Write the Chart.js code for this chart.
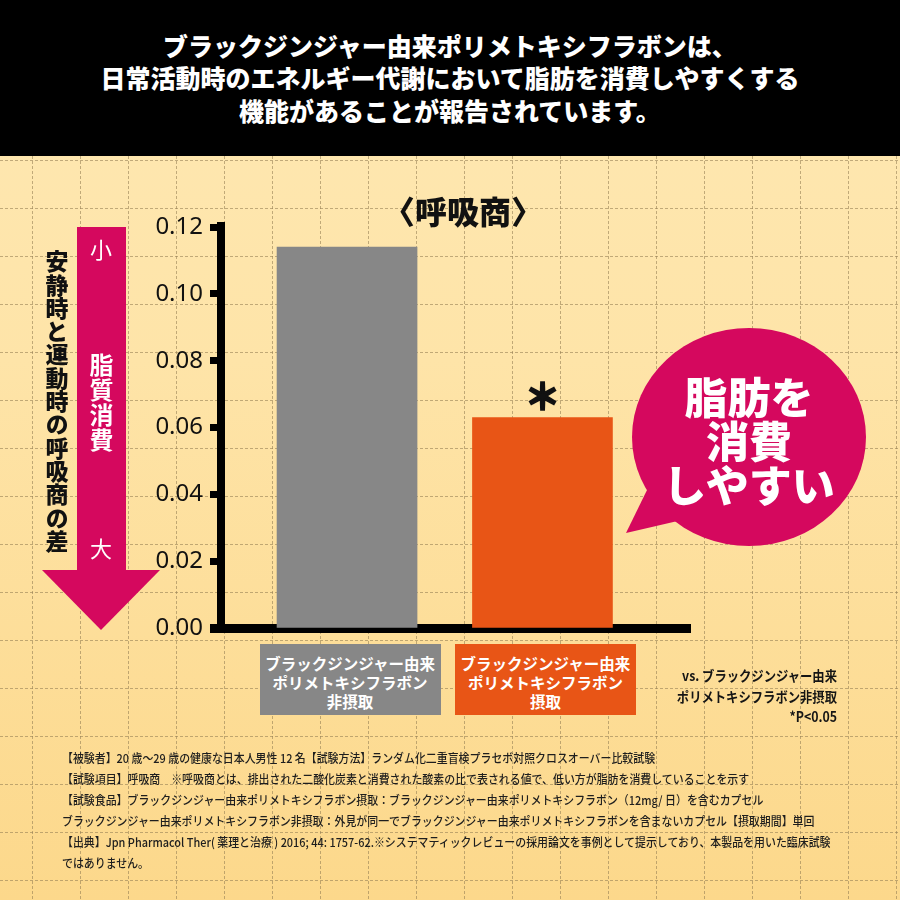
<!DOCTYPE html>
<html lang="ja">
<head>
<meta charset="utf-8">
<script src="https://cdn.jsdelivr.net/npm/chart.js@4/dist/chart.umd.min.js"></script>
<style>
html,body{margin:0;padding:0;}
body{width:900px;height:900px;position:relative;overflow:hidden;
  background:linear-gradient(#FEE8B3 0%,#FEE4A8 40%,#FCD88B 100%);
  font-family:"Noto Sans CJK JP","Noto Sans",sans-serif;}
#c{position:absolute;left:0;top:0;}
.abs{position:absolute;white-space:pre;}
#header{position:absolute;left:0;top:0;width:900px;height:156px;background:#000;color:#fff;
  text-align:center;font-weight:900;font-size:25px;line-height:32.5px;padding-top:28.5px;box-sizing:border-box;white-space:pre;}
#title{left:313px;top:192px;width:300px;text-align:center;font-size:32px;font-weight:900;line-height:36px;color:#111;}
#vlabel{left:45px;top:250px;writing-mode:vertical-rl;text-orientation:upright;font-size:23px;line-height:24px;font-weight:900;letter-spacing:0.3px;color:#111;}
.arrowtxt{left:81px;width:40px;text-align:center;color:#fff;font-size:22px;line-height:24px;}
#fat{left:89px;top:353px;writing-mode:vertical-rl;text-orientation:upright;font-size:24px;line-height:24px;font-weight:700;letter-spacing:1px;color:#fff;}
#bubble{left:649px;top:373px;width:200px;text-align:center;color:#fff;font-size:43px;line-height:44px;font-weight:900;}
#note{right:63px;top:665px;text-align:right;font-size:14px;line-height:20.5px;font-weight:700;color:#151515;transform:scaleX(0.88);transform-origin:right top;}
#foot{left:62px;top:746.5px;font-size:12px;line-height:21px;font-weight:500;color:#1e1e1e;transform:scaleX(0.91);transform-origin:left top;}
.catbox{position:absolute;top:644px;width:181px;height:71px;color:#fff;text-align:center;font-weight:700;font-size:15.5px;line-height:19px;padding-top:9.5px;box-sizing:border-box;white-space:pre;}
#star{position:absolute;width:60px;text-align:center;font-size:36px;line-height:40px;font-weight:900;color:#111;-webkit-text-stroke:1.6px #111;}
</style>
</head>
<body>
<canvas id="c" width="900" height="900"></canvas>
<div id="header">ブラックジンジャー由来ポリメトキシフラボンは、
日常活動時のエネルギー代謝において脂肪を消費しやすくする
機能があることが報告されています。</div>
<div id="title" class="abs">〈呼吸商〉</div>
<div id="vlabel" class="abs">安静時と運動時の呼吸商の差</div>
<div class="abs arrowtxt" style="top:236px;">小</div>
<div id="fat" class="abs">脂質消費</div>
<div class="abs arrowtxt" style="top:535px;">大</div>
<div id="bubble" class="abs">脂肪を
消費
しやすい</div>
<div id="note" class="abs">vs. ブラックジンジャー由来
ポリメトキシフラボン非摂取
*P&lt;0.05</div>
<div id="foot" class="abs">【被験者】20 歳～29 歳の健康な日本人男性 12 名【試験方法】ランダム化二重盲検プラセボ対照クロスオーバー比較試験
【試験項目】呼吸商　※呼吸商とは、排出された二酸化炭素と消費された酸素の比で表される値で、低い方が脂肪を消費していることを示す
【試験食品】ブラックジンジャー由来ポリメトキシフラボン摂取：ブラックジンジャー由来ポリメトキシフラボン（12mg/ 日）を含むカプセル
ブラックジンジャー由来ポリメトキシフラボン非摂取：外見が同一でブラックジンジャー由来ポリメトキシフラボンを含まないカプセル【摂取期間】単回
【出典】Jpn Pharmacol Ther( 薬理と治療 ) 2016; 44: 1757-62.※システマティックレビューの採用論文を事例として提示しており、本製品を用いた臨床試験
ではありません。</div>
<script>
// ---- data ----
const categories = [
  "ブラックジンジャー由来\nポリメトキシフラボン\n非摂取",
  "ブラックジンジャー由来\nポリメトキシフラボン\n摂取"
];
const rqDifference = [0.114, 0.063];
const barColors = ["#878787", "#E85516"];
const significance = ["", "＊"];
const yTicks = [0, 0.02, 0.04, 0.06, 0.08, 0.10, 0.12];

const PINK = "#D5085E";

const backgroundPlugin = {
  id: "bg",
  beforeDraw(chart) {
    const ctx = chart.ctx;
    ctx.save();
    // dashed background grid
    ctx.strokeStyle = "rgba(150,128,85,0.6)";
    ctx.lineWidth = 1;
    ctx.setLineDash([3, 2]);
    for (let x = 32; x < 900; x += 48) {
      ctx.beginPath(); ctx.moveTo(x + 0.5, 156); ctx.lineTo(x + 0.5, 900); ctx.stroke();
    }
    for (let y = 160; y < 900; y += 48) {
      ctx.beginPath(); ctx.moveTo(0, y + 0.5); ctx.lineTo(900, y + 0.5); ctx.stroke();
    }
    ctx.setLineDash([]);
    // arrow
    ctx.fillStyle = PINK;
    ctx.fillRect(77, 227, 49, 344);
    ctx.beginPath(); ctx.moveTo(42, 570); ctx.lineTo(160, 570); ctx.lineTo(101, 630); ctx.closePath(); ctx.fill();
    // speech bubble
    ctx.beginPath(); ctx.ellipse(749, 437, 117, 109, 0, 0, Math.PI * 2); ctx.fill();
    ctx.beginPath(); ctx.moveTo(648, 488); ctx.lineTo(626, 533); ctx.lineTo(682, 520); ctx.closePath(); ctx.fill();
    ctx.restore();
  },
  afterDraw(chart) {
    const ctx = chart.ctx, a = chart.chartArea;
    ctx.save();
    ctx.fillStyle = "#000";
    // small extensions of the axis lines
    ctx.fillRect(a.left - 11, a.bottom - 4, 15, 9);
    ctx.fillRect(a.left - 4, a.top - 5, 8, 6);
    ctx.fillRect(a.left - 4, a.bottom, 8, 5);
    ctx.restore();
  }
};

const chart = new Chart(document.getElementById("c"), {
  type: "bar",
  data: {
    datasets: [{
      data: categories.map((c, i) => ({ x: i, y: rqDifference[i] })),
      backgroundColor: barColors,
      barThickness: 140
    }]
  },
  options: {
    responsive: false,
    animation: false,
    devicePixelRatio: 1,
    layout: { padding: { left: 0, top: 227, right: 210, bottom: 262 } },
    plugins: { legend: { display: false }, tooltip: { enabled: false } },
    scales: {
      x: {
        type: "linear", min: -0.645, max: 1.755, offset: false, z: 1,
        ticks: { display: false },
        grid: { display: false, drawTicks: false, offset: false },
        border: { display: true, color: "#000", width: 9 },
        afterFit(s) { s.height = 10; }
      },
      y: {
        min: 0, max: 0.12, z: 1,
        afterBuildTicks(s) { s.ticks = yTicks.map(v => ({ value: v })); },
        ticks: {
          callback: v => v.toFixed(2),
          font: { family: "'Noto Sans', 'Liberation Sans', sans-serif", size: 24 },
          color: "#111", padding: 7
        },
        grid: { drawOnChartArea: false, drawTicks: true, tickLength: 11, tickWidth: 7, tickColor: "#000" },
        border: { display: true, color: "#000", width: 8 },
        afterFit(s) { s.width = 221; }
      }
    }
  },
  plugins: [backgroundPlugin]
});

// category label boxes and significance marks, positioned from the chart's scales
const xs = chart.scales.x, ys = chart.scales.y;
categories.forEach((c, i) => {
  const cx = xs.getPixelForValue(i) + 3;
  const box = document.createElement("div");
  box.className = "catbox";
  box.style.left = (cx - 90.5) + "px";
  box.style.background = barColors[i];
  box.textContent = c;
  document.body.appendChild(box);
  if (significance[i]) {
    const s = document.createElement("div");
    s.id = "star";
    s.textContent = significance[i];
    s.style.left = (xs.getPixelForValue(i) - 30) + "px";
    s.style.top = (ys.getPixelForValue(rqDifference[i]) - 43) + "px";
    document.body.appendChild(s);
  }
});
</script>
</body>
</html>
